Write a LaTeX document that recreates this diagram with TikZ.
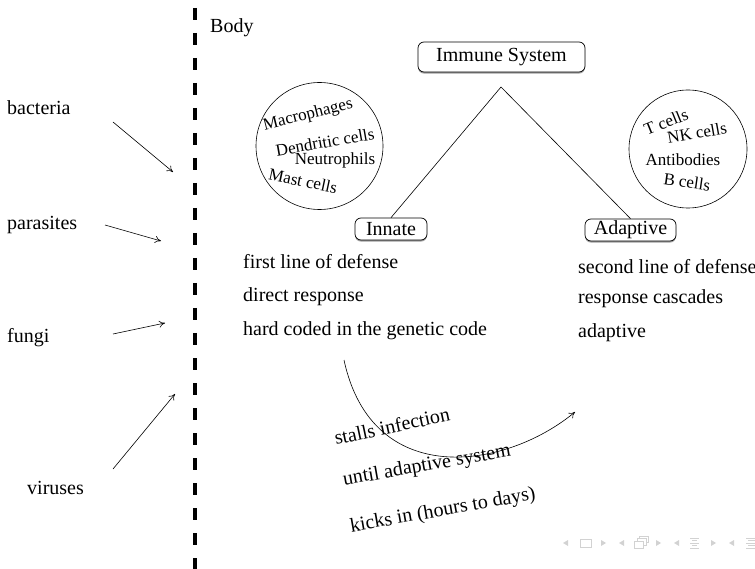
\documentclass[tikz,border=0pt]{standalone}
\usepackage{fontspec}
\setmainfont{Liberation Serif}
\usetikzlibrary{arrows.meta,shadows}
\begin{document}
\begin{tikzpicture}[x=1pt,y=-1pt,
  every node/.style={font=\fontsize{20}{24}\selectfont, inner sep=0pt},
  small/.style={font=\fontsize{17}{20}\selectfont},
  sysbox/.style={draw, line width=0.7pt, rounded corners=6pt, fill=white,
    drop shadow={shadow xshift=0pt, shadow yshift=-1.6pt, fill=gray!75, opacity=1}},
  txt/.style={anchor=west},
  thin line/.style={line width=0.6pt},
  inarrow/.style={thin line, -{To[length=6pt,width=7pt]}},
  nav/.style={fill=gray!35, draw=none},
  navline/.style={draw=gray!35, line width=0.8pt}
]
\useasboundingbox (0,0) rectangle (755,569);

% body boundary
\draw[line width=3.5pt, dash pattern=on 12pt off 13pt] (195,8) -- (195,569);
\node[txt] (body) at (210,28) {Body};

% pathogens
\node[txt] (bacteria) at (7,108) {bacteria};
\node[txt] (parasites) at (7,225) {parasites};
\node[txt] (fungi) at (7,338) {fungi};
\node[txt] (viruses) at (27,488) {viruses};
\coordinate (bacA) at (113,122); \coordinate (bacB) at (173,172);
\coordinate (parA) at (105,225); \coordinate (parB) at (161,241);
\coordinate (funA) at (113,334); \coordinate (funB) at (165,323);
\coordinate (virA) at (113,469); \coordinate (virB) at (175,394);
\draw[inarrow] (bacA) -- (bacB);
\draw[inarrow] (parA) -- (parB);
\draw[inarrow] (funA) -- (funB);
\draw[inarrow] (virA) -- (virB);

% hierarchy
\node[sysbox, minimum width=167pt, minimum height=30pt] (immune) at (501.5,57) {Immune System};
\node[sysbox, minimum width=72pt, minimum height=22pt] (innate) at (391,229) {Innate};
\node[sysbox, minimum width=91pt, minimum height=22pt] (adaptive) at (630.5,230) {Adaptive};
\coordinate (apex) at (501,87);
\draw[thin line] (innate.north) -- (apex) -- (adaptive.north);

% innate cell types
\node[draw, circle, thin line, minimum size=127pt] (innatecells) at (319.5,146) {};
\node[small, rotate=14] (macro) at (308,115) {Macrophages};
\node[small, rotate=10] (dendritic) at (325,142) {Dendritic cells};
\node[small] (neutro) at (335,160) {Neutrophils};
\node[small, rotate=-12] (mast) at (303,181) {Mast cells};

% adaptive cell types
\node[draw, circle, thin line, minimum size=118pt] (adaptivecells) at (688,149) {};
\node[small, rotate=22] (tcells) at (666,122) {T cells};
\node[small, rotate=10] (nkcells) at (697,133) {NK cells};
\node[small] (antibodies) at (683,160) {Antibodies};
\node[small, rotate=-8] (bcells) at (687,182) {B cells};

% properties
\node[txt] (i1) at (243,262) {first line of defense};
\node[txt] (i2) at (243,297) {direct response};
\node[txt] (i3) at (243,331) {hard coded in the genetic code};
\node[txt] (a1) at (578,267) {second line of defense};
\node[txt] (a2) at (578,299) {response cascades};
\node[txt] (a3) at (578,333) {adaptive};

% transition from innate to adaptive
\coordinate (curveS) at (344,360);
\coordinate (curveE) at (575,412);
\draw[thin line, -{To[length=6pt,width=7pt]}] (curveS) .. controls (372,490) and (505,470) .. (curveE);
\node[rotate=12] (stalls) at (392,426) {stalls infection};
\node[rotate=10] (until) at (427,466) {until adaptive system};
\node[rotate=10] (kicks) at (443,511) {kicks in (hours to days)};

% navigation symbols
\begin{scope}[shift={(0,543)}]
  \fill[nav] (563,0) -- (568,-3) -- (568,3) -- cycle;
  \draw[navline] (580,-4) rectangle (591,4);
  \fill[nav] (606,0) -- (601,-3) -- (601,3) -- cycle;
  \fill[nav] (619,0) -- (624,-3) -- (624,3) -- cycle;
  \draw[navline] (634,-2) rectangle (643,5);
  \draw[navline] (637,-2) -- (637,-4.5) -- (646,-4.5) -- (646,2) -- (643,2);
  \draw[navline] (639,-4.5) -- (639,-7) -- (648,-7) -- (648,-0.5) -- (646,-0.5);
  \fill[nav] (661,0) -- (656,-3) -- (656,3) -- cycle;
  \fill[nav] (674,0) -- (679,-3) -- (679,3) -- cycle;
  \draw[navline] (690,-5) -- (699,-5) (692,-2.5) -- (697,-2.5) (690,0) -- (699,0) (692,2.5) -- (697,2.5) (690,5) -- (699,5);
  \fill[nav] (716,0) -- (711,-3) -- (711,3) -- cycle;
  \fill[nav] (729,0) -- (734,-3) -- (734,3) -- cycle;
  \draw[navline] (746,-5) -- (755,-5) (748,-2.5) -- (755,-2.5) (746,0) -- (755,0) (748,2.5) -- (755,2.5) (746,5) -- (755,5);
\end{scope}
\end{tikzpicture}
\end{document}
